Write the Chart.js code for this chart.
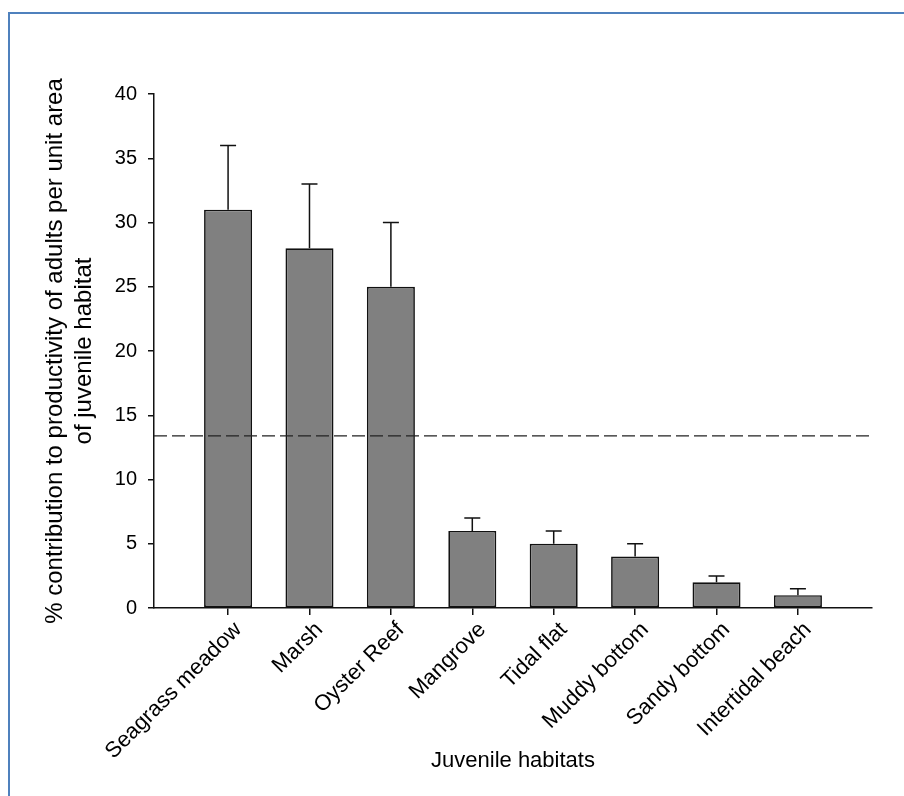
<!DOCTYPE html>
<html>
<head>
<meta charset="utf-8">
<script src="https://cdn.jsdelivr.net/npm/chart.js@4"></script>
<style>
  html, body { margin: 0; padding: 0; background: #fff; overflow: hidden; }
  #frame { position: absolute; left: 8px; top: 12px; width: 1000px; height: 900px;
           border-left: 2px solid #4f81bd; border-top: 2px solid #4f81bd; }
  #wrap { position: absolute; left: 0; top: 0; width: 904px; height: 796px; }
</style>
</head>
<body>
<div id="frame"></div>
<div id="wrap"><canvas id="c"></canvas></div>
<script>
const categories = ["Seagrass meadow", "Marsh", "Oyster Reef", "Mangrove", "Tidal flat", "Muddy bottom", "Sandy bottom", "Intertidal beach"];
const contribution = [31, 28, 25, 6, 5, 4, 2, 1];
const errorUpper = [5, 5, 5, 1, 1, 1, 0.5, 0.5];
const referenceLevel = 13.4;
const yTicks = [0, 5, 10, 15, 20, 25, 30, 35, 40];
const yTitle = ["% contribution to productivity of adults per unit area", "of juvenile habitat"];
const xTitle = "Juvenile habitats";

const FONT = "'Liberation Sans', Arial, sans-serif";
const X_MIN = -0.91, X_MAX = categories.length - 1 + 0.91;

const errorBars = {
  id: 'errorBars',
  afterDatasetsDraw(chart) {
    const ctx = chart.ctx, xs = chart.scales.x, ys = chart.scales.y;
    ctx.save();
    ctx.strokeStyle = '#111';
    ctx.lineWidth = 1.5;
    contribution.forEach((v, i) => {
      const px = xs.getPixelForValue(i);
      const y0 = ys.getPixelForValue(v);
      const y1 = ys.getPixelForValue(v + errorUpper[i]);
      ctx.beginPath();
      ctx.moveTo(px, y0); ctx.lineTo(px, y1);
      ctx.moveTo(px - 8, y1); ctx.lineTo(px + 8, y1);
      ctx.stroke();
    });
    ctx.restore();
  }
};

new Chart(document.getElementById('c'), {
  type: 'bar',
  data: {
    datasets: [
      {
        type: 'line',
        data: [{x: X_MIN, y: referenceLevel}, {x: X_MAX + 0.02, y: referenceLevel}],
        borderColor: '#222',
        borderWidth: 1.3,
        borderDash: [13, 5],
        pointRadius: 0,
        fill: false,
        clip: 4,
        order: 0
      },
      {
        type: 'bar',
        data: contribution.map((v, i) => ({x: i, y: v})),
        backgroundColor: '#808080',
        borderColor: '#111',
        borderWidth: 1.7,
        borderSkipped: false,
        categoryPercentage: 1,
        barPercentage: 0.59,
        order: 1
      }
    ]
  },
  options: {
    responsive: true,
    maintainAspectRatio: false,
    animation: false,
    layout: { padding: { top: 94, right: 32, bottom: 0, left: 0 } },
    plugins: { legend: { display: false }, tooltip: { enabled: false } },
    scales: {
      x: {
        type: 'linear',
        offset: false,
        min: X_MIN, max: X_MAX,
        afterBuildTicks(scale) { scale.ticks = categories.map((c, i) => ({value: i})); },
        afterFit(scale) { scale.height = 188; },
        grid: { offset: false, drawOnChartArea: false, drawTicks: true, tickLength: 7, color: '#111', lineWidth: 1.5 },
        border: { display: true, color: '#111', width: 1.5 },
        ticks: {
          autoSkip: false,
          minRotation: 45, maxRotation: 45,
          padding: 2,
          labelOffset: 10,
          color: '#000',
          font: { family: FONT, size: 22 },
          callback: (v) => categories[v]
        },
        title: { display: true, text: xTitle, color: '#000', font: { family: FONT, size: 22 }, padding: { top: 0, bottom: 22 } }
      },
      y: {
        min: 0, max: 40,
        afterBuildTicks(scale) { scale.ticks = yTicks.map(v => ({value: v})); },
        afterFit(scale) { scale.width = 154; },
        grid: { drawOnChartArea: false, drawTicks: true, tickLength: 6, color: '#111', lineWidth: 1.5 },
        border: { display: true, color: '#111', width: 1.5 },
        ticks: { padding: 11, color: '#000', font: { family: FONT, size: 20 } },
        title: { display: true, text: yTitle, color: '#000', font: { family: FONT, size: 24, lineHeight: 1.2 }, padding: { top: 41, bottom: 0 } }
      }
    }
  },
  plugins: [errorBars]
});
</script>
</body>
</html>
